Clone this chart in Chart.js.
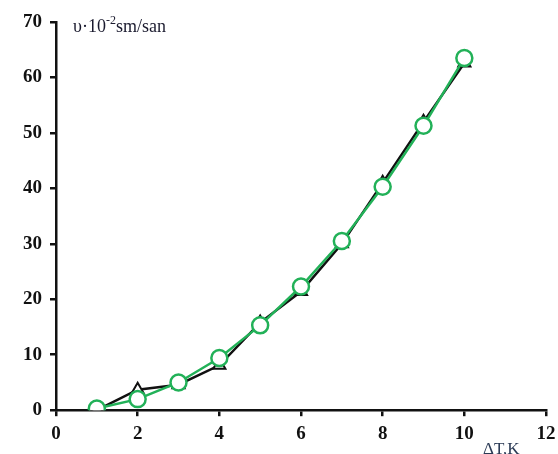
<!DOCTYPE html>
<html lang="en">
<head>
  <meta charset="UTF-8">
  <title>Velocity vs temperature difference</title>
  <script src="https://cdn.jsdelivr.net/npm/chart.js"></script>
  <style>
    html, body {
      margin: 0;
      padding: 0;
      background: #ffffff;
    }
    #wrap {
      width: 558px;
      height: 454px;
    }
  </style>
</head>
<body>
  <div id="wrap">
    <canvas id="speedChart" width="558" height="454"></canvas>
  </div>

  <script>
    const deltaT = [1, 2, 3, 4, 5, 6, 7, 8, 9, 10];
    const speedMeasured = [0, 3.7, 4.6, 8.1, 15.8, 21.4, 30.0, 41.0, 52.0, 62.6];
    const speedModel = [0.3, 2.0, 5.0, 9.4, 15.3, 22.3, 30.5, 40.3, 51.3, 63.5];
    const xTicks = [0, 2, 4, 6, 8, 10, 12];
    const yTicks = [0, 10, 20, 30, 40, 50, 60, 70];

    const toPoints = ys => deltaT.map((x, i) => ({ x: x, y: ys[i] }));

    const green = '#22b158';
    const tickFont = { family: '"Liberation Serif", serif', size: 19, weight: 'bold' };

    // axis captions drawn by hand: y caption sits inside the plot, x caption under the last ticks
    const captions = {
      id: 'captions',
      afterDraw(chart) {
        const ctx = chart.ctx;
        const area = chart.chartArea;
        ctx.save();
        ctx.fillStyle = '#1a1a2e';
        ctx.textBaseline = 'alphabetic';
        ctx.font = '18px "Liberation Serif", serif';
        let x = area.left + 17;
        const y = area.top + 10;
        ctx.fillText('υ·10', x, y);
        x += ctx.measureText('υ·10').width;
        ctx.font = '12px "Liberation Serif", serif';
        ctx.fillText('-2', x, y - 8);
        x += ctx.measureText('-2').width;
        ctx.font = '18px "Liberation Serif", serif';
        ctx.fillText('sm/san', x, y);

        ctx.fillStyle = '#2b3a55';
        ctx.font = '17px "Liberation Serif", serif';
        ctx.fillText('ΔT,K', 483, area.bottom + 44);
        ctx.restore();
      }
    };

    new Chart(document.getElementById('speedChart'), {
      type: 'line',
      data: {
        datasets: [
          {
            data: toPoints(speedModel),
            borderColor: green,
            borderWidth: 2.5,
            backgroundColor: '#ffffff',
            pointStyle: 'circle',
            pointRadius: 8,
            pointBorderWidth: 2.5,
            pointBorderColor: green,
            pointBackgroundColor: '#ffffff',
            tension: 0
          },
          {
            data: toPoints(speedMeasured),
            borderColor: '#111111',
            borderWidth: 2.5,
            backgroundColor: '#ffffff',
            pointStyle: 'triangle',
            pointRadius: 7,
            pointBorderWidth: 2,
            pointBorderColor: '#111111',
            pointBackgroundColor: '#ffffff',
            tension: 0
          }
        ]
      },
      options: {
        responsive: false,
        animation: false,
        layout: { padding: { top: 22, right: 0, bottom: 3, left: 15 } },
        plugins: {
          legend: { display: false },
          tooltip: { enabled: false }
        },
        scales: {
          x: {
            type: 'linear',
            min: 0,
            max: 12,
            afterBuildTicks: axis => { axis.ticks = xTicks.map(v => ({ value: v })); },
            // let the "12" label hang a little past the plot's right edge
            afterFit: axis => { axis.paddingRight = 12; },
            border: { color: '#111111', width: 2.5 },
            grid: { drawOnChartArea: false, color: '#111111', lineWidth: 2.5, tickLength: 6 },
            ticks: { color: '#111111', padding: 6, font: tickFont }
          },
          y: {
            min: 0,
            max: 70,
            afterBuildTicks: axis => { axis.ticks = yTicks.map(v => ({ value: v })); },
            border: { color: '#111111', width: 2.5 },
            grid: { drawOnChartArea: false, color: '#111111', lineWidth: 2.5, tickLength: 6 },
            ticks: { color: '#111111', padding: 8, font: tickFont }
          }
        }
      },
      plugins: [captions]
    });
  </script>
</body>
</html>
